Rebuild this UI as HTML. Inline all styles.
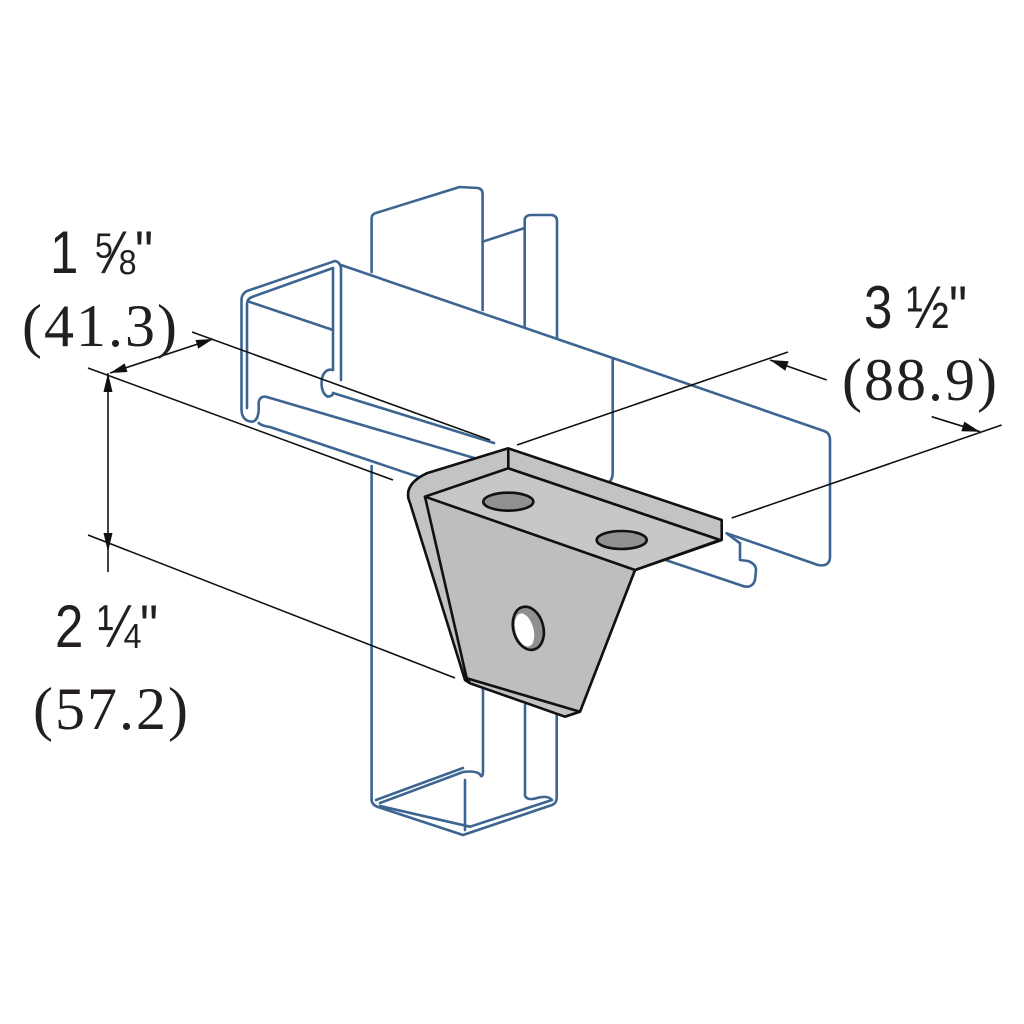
<!DOCTYPE html>
<html><head><meta charset="utf-8"><style>
html,body{margin:0;padding:0;background:#fff;}
svg{display:block;}
.s{font-family:"Liberation Sans",sans-serif;font-size:60px;fill:#231f20;}
.r{font-family:"Liberation Serif",serif;font-size:60px;fill:#231f20;letter-spacing:2px;}
</style></head><body>
<svg width="1024" height="1024" viewBox="0 0 1024 1024" xmlns="http://www.w3.org/2000/svg">
<g fill="none" stroke="#3d6592" stroke-width="2.6" stroke-linejoin="round" stroke-linecap="round">
<path d="M371.6,272 L371.6,218 Q372,214 376,213 L459.6,187 L478,188 Q482.6,189 482.6,194 L482.6,310"/>
<path d="M482.6,241.7 L524.7,228"/>
<path d="M524.7,326 L524.7,219 Q526,215 531,215 L552,215 Q557,216 557,221 L557,337"/>
<path d="M341,265 L612.7,358 L824,431 Q830,433 830,440 L830,558 Q829,567 818,565 L726.7,533.3"/>
<path d="M612.7,358 L612.7,474 Q612,482 606,484"/>
<path d="M333,261.7 L335,261 Q340,262 341,268 L341,380"/>
<path d="M333,261.7 L247,291 Q241.5,294 241.5,300 L241.5,410 Q242,421 252,421.7 Q258,421 258.7,410 L258.7,402 Q260,396 266,396.7 L498,465"/>
<path d="M333,268 L252,297 Q247,299 247,304 L247,408"/>
<path d="M249,301.7 L333,330"/>
<path d="M333,268 L333,370 Q325,368 322,378 Q320,392 327.6,396.7 Q333,396 333,393"/>
<path d="M333,393 L494,443"/>
<path d="M258.7,423 Q262,426 270,427 L740,585 Q752,590 755,580 L756,570 Q756,564 748,561 L740,560 L740,543.3"/>
<path d="M726.7,533.3 L740,543.3"/>
<path d="M371.6,466 L371.6,800 Q372,805 378,807 L463,835 L552,805 Q556.7,803 556.7,798 L556.7,712"/>
<path d="M380,803 L463,772 Q478,770 481,776 Q483,777 483,770 L483,688"/>
<path d="M376,800 L463,768"/>
<path d="M465,780 L465,830"/>
<path d="M525,705 L525,796 Q528,801 537,798 Q548,795 552,800"/>
<path d="M470,826.7 L552,800"/>
<path d="M380,806 L470,826.7"/>
</g>
<g stroke="#111" stroke-width="2.6" stroke-linejoin="round" fill="#c2c3c5">
<path d="M508.3,448.3 L721.7,520 L721.7,540 L635,570 L580,711.7 L565,716.7 L470,683.3 L465,680 L410,503 Q402,485 426.7,473.3 Z"/>
<path d="M508.3,468.3 L720,540 L635,570 L580,711.7 L466.7,678.3 L425,496.7 Z" fill="#bdbec0"/>
<path d="M508.3,468.3 L720,540 L635,570 L425,496.7 Z" fill="#c6c7c9"/>
<path d="M508.3,448.3 L508.3,468.3" fill="none"/>
<path d="M466.7,678.3 L470,683.3 M580,711.7 L565,716.7" fill="none"/>
<ellipse cx="508.3" cy="501.7" rx="25" ry="9" fill="#8f9092"/>
<ellipse cx="621.7" cy="540" rx="25" ry="9" fill="#8f9092"/>
<ellipse cx="528.3" cy="628.3" rx="15" ry="22" transform="rotate(-15 528.3 628.3)" fill="#8f9092"/>
<ellipse cx="524.5" cy="630" rx="9" ry="17" transform="rotate(-15 524.5 630)" fill="#fff" stroke="none"/>
</g>
<g stroke="#111" stroke-width="1.6" fill="none">
<path d="M192,332 L490,440"/>
<path d="M88,368 L393,480"/>
<path d="M110,373 L213,339"/>
<path d="M108,373 L108,572"/>
<path d="M88,535 L455,678"/>
<path d="M517,445 L788,352"/>
<path d="M826.7,380 L770,360"/>
<path d="M731.7,518 L1001.7,425"/>
<path d="M931.7,416.7 L980,431.7"/>
</g>
<g fill="#111">
<polygon points="110,373 127.5,372 124.7,363.4"/>
<polygon points="213,339 198.3,348.6 195.5,340"/>
<polygon points="108,373 103.5,392 112.5,392"/>
<polygon points="108,552 103.5,533 112.5,533"/>
<polygon points="770,360 788.6,361.3 785.3,370.7"/>
<polygon points="980,431.7 961.3,431.2 964.3,421.6"/>
</g>
<text class="s" x="50" y="273" transform="translate(50 273) scale(0.85 1) translate(-50 -273)">1 ⅝"</text>
<text class="r" x="22" y="346">(41.3)</text>
<text class="s" x="864" y="328" transform="translate(864 328) scale(0.85 1) translate(-864 -328)">3 ½"</text>
<text class="r" x="842" y="400">(88.9)</text>
<text class="s" x="55" y="647" transform="translate(55 647) scale(0.85 1) translate(-55 -647)">2 ¼"</text>
<text class="r" x="33" y="729">(57.2)</text>
</svg>
</body></html>
